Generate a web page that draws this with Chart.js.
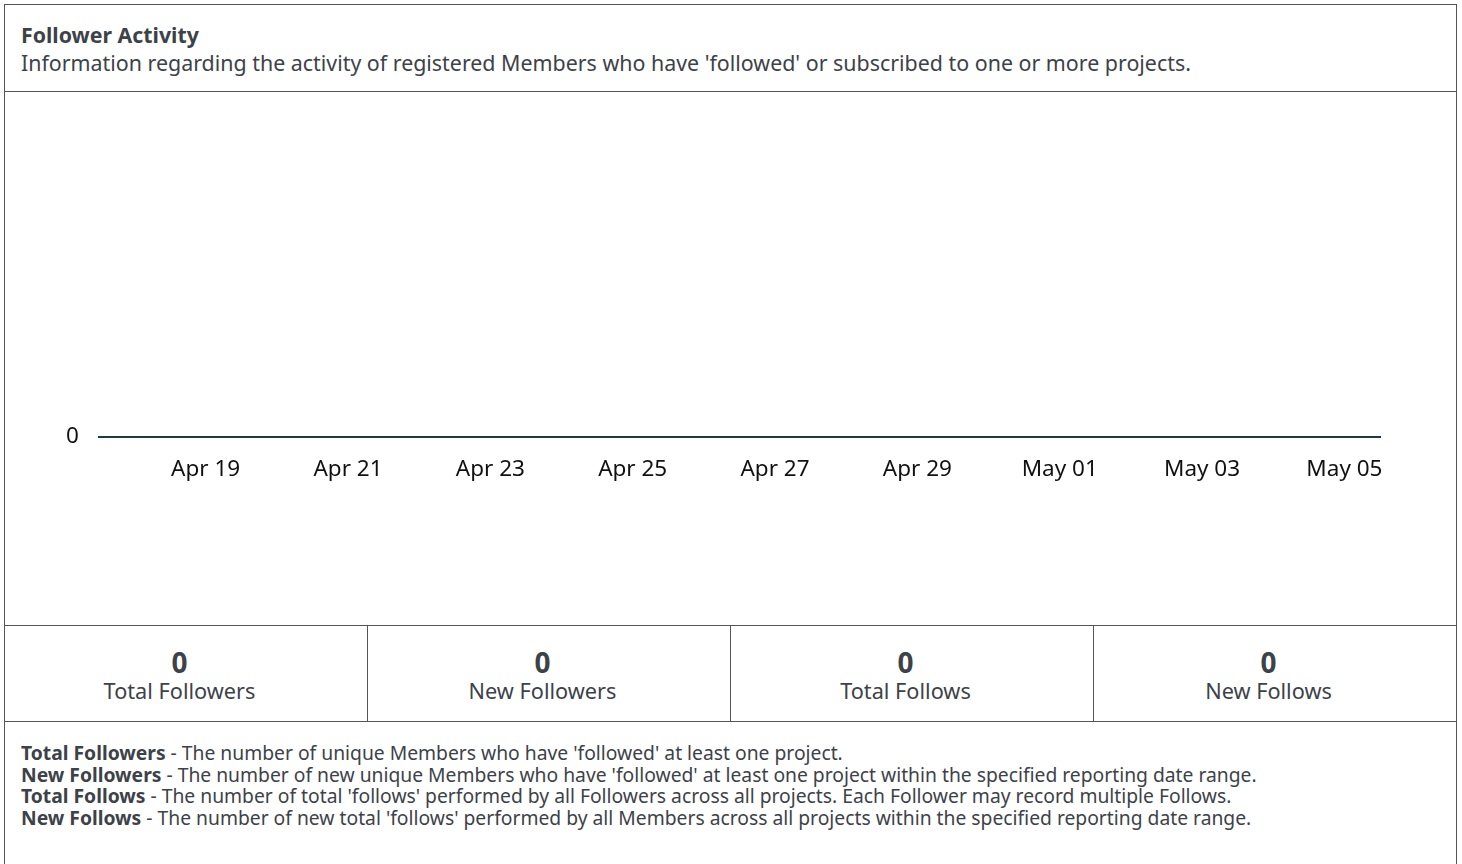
<!DOCTYPE html>
<html>
<head>
<meta charset="utf-8">
<script src="https://cdn.jsdelivr.net/npm/chart.js@4.4.0/dist/chart.umd.min.js"></script>
<style>
  body { margin: 0; background: #fff; font-family: "Noto Sans", sans-serif; color: #3d4248; }
  .card { position: absolute; left: 4px; top: 4px; width: 1451px; height: 880px; border: 1px solid #555; border-bottom: none; }
  .head { height: 87px; border-bottom: 1px solid #555; box-sizing: border-box; padding: 16px 0 0 16px; }
  .head h3 { margin: 0; font-size: 21.3px; font-weight: 700; line-height: 28px; }
  .head p { margin: 0; font-size: 21.4px; line-height: 28px; }
  .chart { position: relative; height: 533px; border-bottom: 1px solid #555; }
  .stats { display: flex; height: 95px; border-bottom: 1px solid #555; }
  .stat { flex: 1; text-align: center; border-right: 1px solid #555; padding: 21px 13px 0 0; box-sizing: border-box; }
  .stat:last-child { border-right: none; }
  .stat b { display: block; font-size: 28px; line-height: 30px; }
  .stat span { display: block; font-size: 21.7px; line-height: 28px; }
  .notes { padding: 20px 0 0 16px; font-size: 19.3px; line-height: 21.7px; }
</style>
</head>
<body>
<div class="card">
  <div class="head">
    <h3>Follower Activity</h3>
    <p>Information regarding the activity of registered Members who have 'followed' or subscribed to one or more projects.</p>
  </div>
  <div class="chart"><canvas id="followChart"></canvas></div>
  <div class="stats" id="stats"></div>
  <div class="notes">
    <div><b>Total Followers</b> - The number of unique Members who have 'followed' at least one project.</div>
    <div><b>New Followers</b> - The number of new unique Members who have 'followed' at least one project within the specified reporting date range.</div>
    <div><b>Total Follows</b> - The number of total 'follows' performed by all Followers across all projects. Each Follower may record multiple Follows.</div>
    <div><b>New Follows</b> - The number of new total 'follows' performed by all Members across all projects within the specified reporting date range.</div>
  </div>
</div>
<script>
const days = ['Apr 18','Apr 19','Apr 20','Apr 21','Apr 22','Apr 23','Apr 24','Apr 25','Apr 26',
  'Apr 27','Apr 28','Apr 29','Apr 30','May 01','May 02','May 03','May 04','May 05'];
const followers = [0,0,0,0,0,0,0,0,0,0,0,0,0,0,0,0,0,0];
const statLabels = ['Total Followers','New Followers','Total Follows','New Follows'];
const statValues = [0, 0, 0, 0];

// summary boxes under the chart
const statsEl = document.getElementById('stats');
statLabels.forEach((l, i) => {
  const d = document.createElement('div');
  d.className = 'stat';
  d.innerHTML = '<b>' + statValues[i] + '</b><span>' + l + '</span>';
  statsEl.appendChild(d);
});

const lineColor = '#1d3a4a';
new Chart(document.getElementById('followChart'), {
  type: 'line',
  data: {
    labels: days,
    datasets: [{
      label: 'Followers',
      data: followers,
      borderColor: lineColor,
      borderWidth: 2,
      pointRadius: 0,
      fill: false
    }]
  },
  options: {
    responsive: true,
    maintainAspectRatio: false,
    animation: false,
    layout: { padding: { left: 41, right: 76, top: 37, bottom: 123 } },
    plugins: { legend: { display: false }, tooltip: { enabled: false } },
    scales: {
      x: {
        offset: true,
        grid: { display: false, drawTicks: false },
        border: { display: true, color: lineColor, width: 2 },
        ticks: {
          autoSkip: false, maxRotation: 0, padding: 19,
          color: '#111', font: { family: 'Noto Sans', size: 22.5 },
          callback: function (v, i) { return i % 2 === 1 ? this.getLabelForValue(v) : ''; }
        }
      },
      y: {
        min: 0, max: 1,
        grid: { display: false, drawTicks: false },
        border: { display: false },
        ticks: {
          stepSize: 1, padding: 20,
          color: '#111', font: { family: 'Noto Sans', size: 22.5 },
          callback: v => v === 0 ? '0' : ''
        }
      }
    }
  }
});
</script>
</body>
</html>
